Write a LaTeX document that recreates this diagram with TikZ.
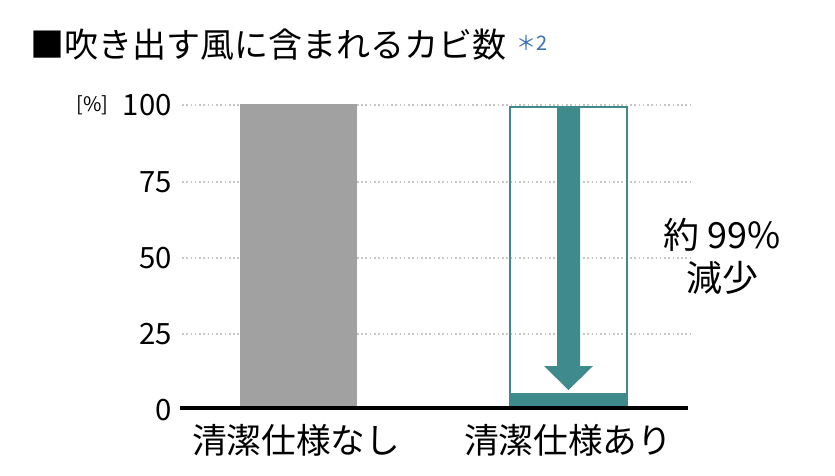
\documentclass[tikz,border=0pt]{standalone}
\usepackage{fontspec}
\setmainfont{Noto Sans CJK JP}
\definecolor{teal1}{HTML}{3F8A8C}
\definecolor{gbar}{HTML}{A0A1A0}
\definecolor{blu}{HTML}{3A6FB5}
\begin{document}
\begin{tikzpicture}[x=0.75pt,y=-0.75pt,
  grid/.style={gray!45,line width=1.2pt,dotted},
  ylab/.style={anchor=east,font=\fontsize{22}{24}\selectfont,inner sep=0},
  cat/.style={font=\fontsize{26}{28}\selectfont,inner sep=0}]
\useasboundingbox (0,0) rectangle (835,475);
\node[anchor=west,inner sep=0,font=\fontsize{25.5}{28}\selectfont] (title) at (30,45) {■吹き出す風に含まれるカビ数};
\node[anchor=west,inner sep=0,text=blu,font=\fontsize{15}{16}\selectfont] (note) at (516,43) {＊2};
\node[anchor=west,inner sep=0,font=\fontsize{15}{16}\selectfont] (unit) at (76,105) {[\%]};
\foreach \v/\y in {100/105,75/182,50/258,25/334,0/410}{
  \node[ylab] (l\v) at (172,\y) {\v};
}
\foreach \y in {105,182,258,334}{
  \draw[grid] (182,\y) -- (690,\y);
}
\fill[gbar] (240,104) rectangle (357,408);
\draw[teal1,line width=1.8pt] (510,107) rectangle (627,408);
\fill[teal1] (509,393) rectangle (628,408);
\fill[teal1] (557,107) -- (580,107) -- (580,366) -- (593,366) -- (568.5,390) -- (544,366) -- (557,366) -- cycle;
\draw[line width=2.5pt] (180,408) -- (688,408);
\node[cat] (c1) at (296,440) {清潔仕様なし};
\node[cat] (c2) at (568,440) {清潔仕様あり};
\node[cat,align=center,font=\fontsize{27}{32}\selectfont] (res) at (722,256) {約 99\%\\減少};
\end{tikzpicture}
\end{document}
